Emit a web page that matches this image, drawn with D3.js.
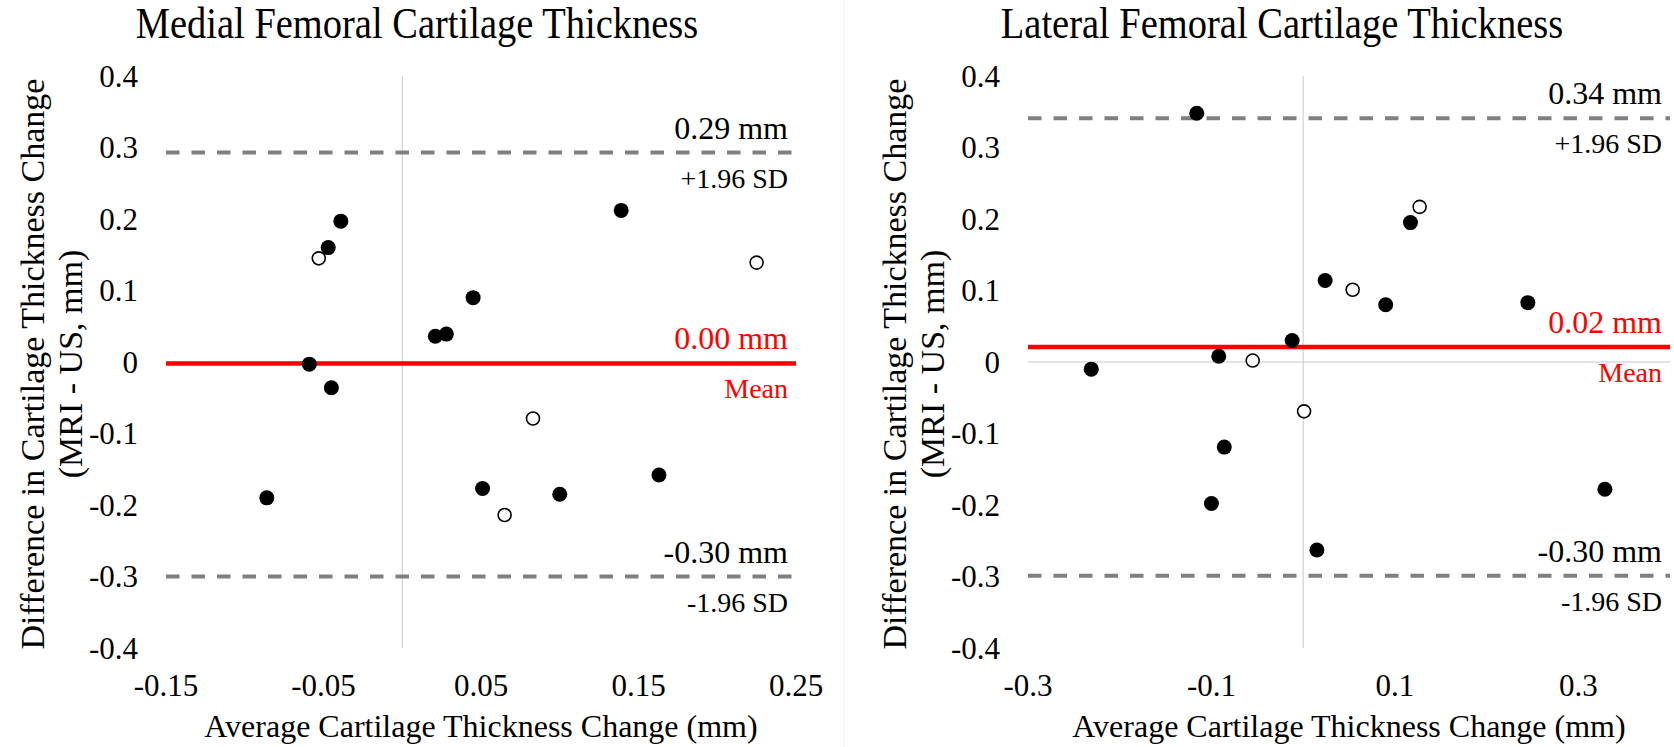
<!DOCTYPE html>
<html>
<head>
<meta charset="utf-8">
<script src="https://cdn.jsdelivr.net/npm/d3@7/dist/d3.min.js"></script>
<style>
  body { margin: 0; background: #fff; }
  svg { display: block; }
  text { font-family: "Liberation Serif", "Times New Roman", serif; fill: #000; }
</style>
</head>
<body>
<div id="chart"></div>
<script>
// [average thickness change, difference MRI - US] in mm
const medialSolid = [[-0.047, 0.160], [-0.039, 0.197], [0.139, 0.212], [0.045, 0.090],
    [0.021, 0.036], [0.028, 0.039], [-0.059, -0.003], [-0.045, -0.036],
    [-0.086, -0.190], [0.051, -0.177], [0.100, -0.185], [0.163, -0.158]];
const medialOpen = [[-0.053, 0.145], [0.225, 0.139], [0.083, -0.079], [0.065, -0.214]];

const lateralSolid = [[-0.116, 0.348], [0.117, 0.195], [0.024, 0.114], [0.090, 0.080],
    [0.245, 0.083], [-0.012, 0.030], [-0.092, 0.008], [-0.231, -0.010],
    [-0.086, -0.119], [-0.100, -0.198], [0.015, -0.263], [0.329, -0.178]];
const lateralOpen = [[0.127, 0.217], [0.054, 0.101], [-0.055, 0.002], [0.001, -0.069]];

// +1.96 SD, mean, -1.96 SD
const medialLimits = [0.293, -0.002, -0.300];
const lateralLimits = [0.341, 0.021, -0.299];
const medialLimitText = ["0.29 mm", "0.00 mm", "-0.30 mm"];
const lateralLimitText = ["0.34 mm", "0.02 mm", "-0.30 mm"];
const limitNames = ["+1.96 SD", "Mean", "-1.96 SD"];

const medialTicksX = [-0.15, -0.05, 0.05, 0.15, 0.25];
const lateralTicksX = [-0.3, -0.1, 0.1, 0.3];
const ticksY = [0.4, 0.3, 0.2, 0.1, 0, -0.1, -0.2, -0.3, -0.4];

const width = 1674;
const height = 747;

const svg = d3.select("#chart").append("svg")
    .attr("width", width)
    .attr("height", height);

// faint border of the second chart
svg.append("line")
    .attr("x1", 844).attr("x2", 844)
    .attr("y1", 0).attr("y2", height)
    .attr("stroke", "#f0f0f0");

const y = d3.scaleLinear().domain([-0.4, 0.4]).range([648, 76]);

function drawPanel(p) {
    const x = d3.scaleLinear().domain(p.domain).range(p.range);
    const g = svg.append("g");

    // title (slightly tall lettering, as in the source figure)
    g.append("text")
        .attr("transform", `translate(${p.titleX},38) scale(1,1.15)`)
        .attr("text-anchor", "middle")
        .style("font-size", "38.5px")
        .text(p.title);

    // axis lines through zero
    g.append("line")
        .attr("x1", x(0)).attr("x2", x(0))
        .attr("y1", y(0.4)).attr("y2", y(-0.4))
        .attr("stroke", "#c8c8c8").attr("stroke-width", 1);
    g.append("line")
        .attr("x1", p.range[0]).attr("x2", p.range[1])
        .attr("y1", y(0)).attr("y2", y(0))
        .attr("stroke", "#c8c8c8").attr("stroke-width", 1);

    // y tick labels
    g.selectAll(".ytick")
        .data(ticksY)
        .join("text")
        .attr("class", "ytick")
        .attr("x", p.range[0] - 28)
        .attr("y", d => y(d) + 10.5)
        .attr("text-anchor", "end")
        .style("font-size", "31px")
        .text(d => String(d));

    // x tick labels
    g.selectAll(".xtick")
        .data(p.ticksX)
        .join("text")
        .attr("class", "xtick")
        .attr("x", d => x(d))
        .attr("y", 696)
        .attr("text-anchor", "middle")
        .style("font-size", "31px")
        .text(d => String(d));

    // axis titles
    g.append("text")
        .attr("x", (p.range[0] + p.range[1]) / 2).attr("y", 737)
        .attr("text-anchor", "middle")
        .style("font-size", "32px")
        .text("Average Cartilage Thickness Change (mm)");

    const yTitle = ["Difference in Cartilage Thickness Change", "(MRI - US, mm)"];
    g.selectAll(".ytitle")
        .data(yTitle)
        .join("text")
        .attr("class", "ytitle")
        .attr("transform", (d, i) => `translate(${p.range[0] - 122 + i * 38},364) rotate(-90)`)
        .attr("text-anchor", "middle")
        .style("font-size", "34px")
        .text(d => d);

    // limits of agreement and mean
    g.selectAll(".limit")
        .data(p.limits)
        .join("line")
        .attr("class", "limit")
        .attr("x1", p.range[0]).attr("x2", p.range[1])
        .attr("y1", d => y(d)).attr("y2", d => y(d))
        .attr("stroke", (d, i) => i === 1 ? "#ff0000" : "#7f7f7f")
        .attr("stroke-width", (d, i) => i === 1 ? 4.5 : 4)
        .attr("stroke-dasharray", (d, i) => i === 1 ? null : "13.5,12");

    const labelX = p.range[1] - 8;
    g.selectAll(".limitval")
        .data(p.limits)
        .join("text")
        .attr("class", "limitval")
        .attr("x", labelX)
        .attr("y", d => y(d) - 14)
        .attr("text-anchor", "end")
        .style("font-size", "32px")
        .style("fill", (d, i) => i === 1 ? "#ff0000" : "#000")
        .text((d, i) => p.limitText[i]);
    g.selectAll(".limitname")
        .data(p.limits)
        .join("text")
        .attr("class", "limitname")
        .attr("x", labelX)
        .attr("y", d => y(d) + 35)
        .attr("text-anchor", "end")
        .style("font-size", "28px")
        .style("fill", (d, i) => i === 1 ? "#ff0000" : "#000")
        .text((d, i) => limitNames[i]);

    // points
    g.selectAll(".solid")
        .data(p.solid)
        .join("circle")
        .attr("class", "solid")
        .attr("cx", d => x(d[0]))
        .attr("cy", d => y(d[1]))
        .attr("r", 7.5)
        .attr("fill", "#000");
    g.selectAll(".open")
        .data(p.open)
        .join("circle")
        .attr("class", "open")
        .attr("cx", d => x(d[0]))
        .attr("cy", d => y(d[1]))
        .attr("r", 6.5)
        .attr("fill", "#fff")
        .attr("stroke", "#000")
        .attr("stroke-width", 1.6);
}

drawPanel({
    title: "Medial Femoral Cartilage Thickness",
    titleX: 417,
    domain: [-0.15, 0.25],
    range: [166, 796],
    ticksX: medialTicksX,
    solid: medialSolid,
    open: medialOpen,
    limits: medialLimits,
    limitText: medialLimitText
});

drawPanel({
    title: "Lateral Femoral Cartilage Thickness",
    titleX: 1282,
    domain: [-0.3, 0.4],
    range: [1028, 1670],
    ticksX: lateralTicksX,
    solid: lateralSolid,
    open: lateralOpen,
    limits: lateralLimits,
    limitText: lateralLimitText
});
</script>
</body>
</html>
